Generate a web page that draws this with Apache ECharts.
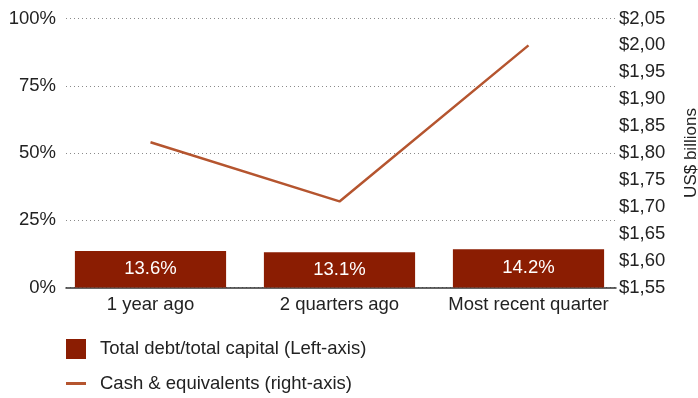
<!DOCTYPE html>
<html>
<head>
<meta charset="utf-8">
<style>
  html, body { margin: 0; padding: 0; background: #ffffff; }
  #chart { width: 698px; height: 398px; }
</style>
<script src="https://cdn.jsdelivr.net/npm/echarts@6/dist/echarts.min.js"></script>
</head>
<body>
<div id="chart"></div>
<script>
// Periods on the horizontal axis
const periods = ['1 year ago', '2 quarters ago', 'Most recent quarter'];
// Total debt / total capital, percent (left axis)
const debtToCapital = [13.6, 13.1, 14.2];
// Cash & equivalents, US$ billions (right axis)
const cashEquivalents = [1.82, 1.71, 2.00];
// Axis ranges
const pctMin = 0, pctMax = 100, pctStep = 25;
const usdMin = 1.55, usdMax = 2.05, usdStep = 0.05;

const FONT = '"Liberation Sans", Arial, Helvetica, sans-serif';
const FS = 18.5;
const TEXT = '#222222';
const BAR = '#8B1D02';
const LINE = '#B5552F';

const chart = echarts.init(document.getElementById('chart'), null, { renderer: 'canvas' });

const plotTop = 18.5, plotBottom = 110.5;

chart.setOption({
  animation: false,
  textStyle: { fontFamily: FONT },
  grid: [
    // series area
    { left: 56, right: 75, top: plotTop, bottom: plotBottom, containLabel: false, outerBoundsMode: 'none' },
    // frame: baseline, gridlines and tick labels
    { left: 66, right: 82, top: plotTop, bottom: plotBottom, containLabel: false, outerBoundsMode: 'none' }
  ],
  legend: [
    {
      orient: 'vertical', left: 66, top: 339, padding: 0,
      itemWidth: 20, itemHeight: 20,
      icon: 'rect',
      data: ['Total debt/total capital (Left-axis)'],
      textStyle: { fontFamily: FONT, fontSize: FS, color: TEXT, padding: [0, 0, 0, 9] }
    },
    {
      orient: 'vertical', left: 66, top: 374, padding: 0,
      itemWidth: 20, itemHeight: 3,
      icon: 'rect',
      data: ['Cash & equivalents (right-axis)'],
      textStyle: { fontFamily: FONT, fontSize: FS, color: TEXT, padding: [0, 0, 0, 9] }
    }
  ],
  xAxis: [
    {
      type: 'category', gridIndex: 0, data: periods,
      axisLine: { show: false }, axisTick: { show: false },
      axisLabel: { interval: 0, fontFamily: FONT, fontSize: FS, color: TEXT, margin: 8 }
    },
    {
      type: 'value', gridIndex: 1, min: 0, max: 1,
      axisLine: { show: true, lineStyle: { color: '#333333', width: 1.5 } },
      axisTick: { show: false }, axisLabel: { show: false }, splitLine: { show: false }
    }
  ],
  yAxis: [
    // scales used by the series
    { type: 'value', gridIndex: 0, min: pctMin, max: pctMax, interval: pctStep, show: false },
    { type: 'value', gridIndex: 0, min: usdMin, max: usdMax, interval: usdStep, show: false },
    // visible left axis with dotted gridlines
    {
      type: 'value', gridIndex: 1, position: 'left',
      min: pctMin, max: pctMax, interval: pctStep,
      axisLine: { show: false }, axisTick: { show: false },
      axisLabel: { fontFamily: FONT, fontSize: FS, color: TEXT, margin: 10, formatter: v => v + '%' },
      splitLine: { show: true, lineStyle: { color: '#8a8a8a', width: 1, type: [1, 3] } }
    },
    // visible right axis in US$ billions
    {
      type: 'value', gridIndex: 1, position: 'right',
      min: usdMin, max: usdMax, interval: usdStep,
      axisLine: { show: false }, axisTick: { show: false },
      axisLabel: {
        fontFamily: FONT, fontSize: FS, color: TEXT, margin: 3,
        formatter: v => '$' + v.toFixed(2).replace('.', ',')
      },
      splitLine: { show: false },
      name: 'US$ billions', nameLocation: 'middle', nameRotate: 90, nameGap: 67,
      nameTextStyle: { fontFamily: FONT, fontSize: 17, color: TEXT }
    }
  ],
  series: [
    {
      name: 'Total debt/total capital (Left-axis)',
      type: 'bar', xAxisIndex: 0, yAxisIndex: 0,
      data: debtToCapital,
      barCategoryGap: '20%',
      itemStyle: { color: BAR },
      label: {
        show: true, position: 'inside', color: '#ffffff',
        fontFamily: FONT, fontSize: FS, formatter: p => p.value.toFixed(1) + '%'
      }
    },
    {
      name: 'Cash & equivalents (right-axis)',
      type: 'line', xAxisIndex: 0, yAxisIndex: 1,
      data: cashEquivalents,
      showSymbol: false, symbol: 'none',
      lineStyle: { color: LINE, width: 2.5 },
      itemStyle: { color: LINE }
    }
  ]
});
</script>
</body>
</html>
